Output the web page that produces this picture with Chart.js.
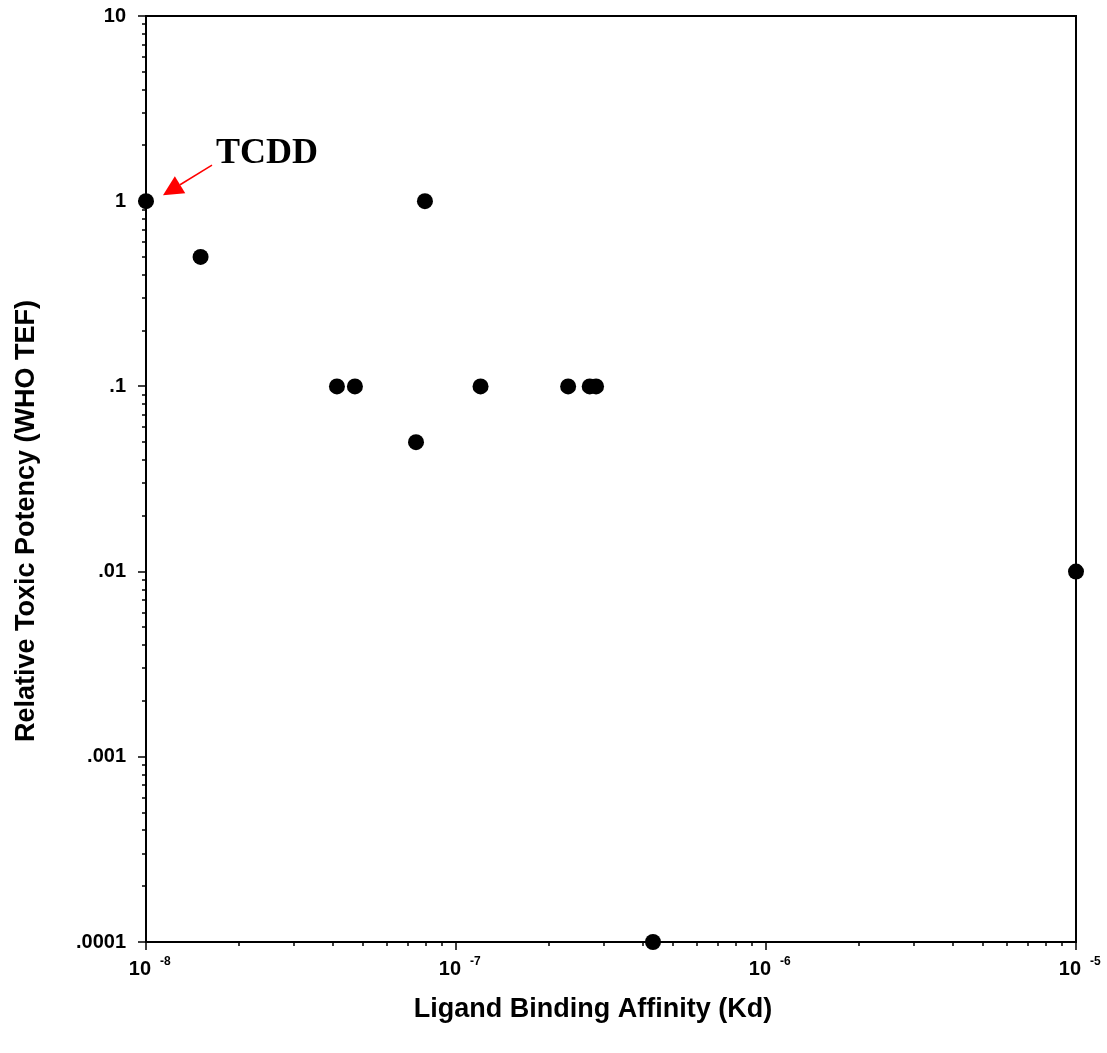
<!DOCTYPE html>
<html>
<head>
<meta charset="utf-8">
<script src="https://cdn.jsdelivr.net/npm/chart.js@4"></script>
<style>
  body { margin: 0; background: #fff; }
  #wrap { width: 1107px; height: 1053px; }
</style>
</head>
<body>
<div id="wrap"><canvas id="tef"></canvas></div>
<script>
// Kd (M) against WHO TEF for each congener
const kd = [1e-8, 1.5e-8, 4.13e-8, 4.72e-8, 7.43e-8, 7.94e-8, 1.2e-7, 2.3e-7, 2.7e-7, 2.83e-7, 4.32e-7, 1e-5]
const tef = [1, 0.5, 0.1, 0.1, 0.05, 1, 0.1, 0.1, 0.1, 0.1, 0.0001, 0.01]

const yTickLabels = ['.0001', '.001', '.01', '.1', '1', '10']
const xTickExponents = ['-8', '-7', '-6', '-5']
const xTitle = 'Ligand Binding Affinity (Kd)'
const yTitle = 'Relative Toxic Potency (WHO TEF)'

const sans = 'Liberation Sans, Arial, Helvetica, sans-serif'

function decade(v) {
  const e = Math.log10(v)
  return Math.abs(e - Math.round(e)) < 1e-6 ? Math.round(e) : null
}
function mantissa(v) {
  return v / Math.pow(10, Math.floor(Math.log10(v) + 1e-9))
}

// frame, tick marks, x labels with exponents, axis titles and the TCDD callout
const decor = {
  id: 'decor',
  beforeDatasetsDraw(chart) {
    const {ctx, chartArea: a, scales: {x, y}} = chart
    ctx.save()
    ctx.strokeStyle = '#000'
    ctx.lineWidth = 2
    ctx.strokeRect(a.left, a.top, a.right - a.left, a.bottom - a.top)

    ctx.lineWidth = 1.5
    ctx.beginPath()
    y.ticks.forEach(t => {
      if (Math.abs(mantissa(t.value) - 1.5) < 1e-6) return
      const py = Math.round(y.getPixelForValue(t.value))
      const len = decade(t.value) !== null ? 8 : 4
      ctx.moveTo(a.left - len, py)
      ctx.lineTo(a.left, py)
    })
    x.ticks.forEach(t => {
      if (Math.abs(mantissa(t.value) - 1.5) < 1e-6) return
      const px = Math.round(x.getPixelForValue(t.value))
      const len = decade(t.value) !== null ? 8 : 4
      ctx.moveTo(px, a.bottom)
      ctx.lineTo(px, a.bottom + len)
    })
    ctx.stroke()

    ctx.fillStyle = '#000'
    ctx.textBaseline = 'alphabetic'
    x.ticks.forEach(t => {
      const e = decade(t.value)
      if (e === null) return
      const px = x.getPixelForValue(t.value)
      ctx.font = 'bold 20px ' + sans
      ctx.textAlign = 'right'
      ctx.fillText('10', px + 5, a.bottom + 33)
      ctx.font = 'bold 12px ' + sans
      ctx.textAlign = 'left'
      ctx.fillText(xTickExponents[e + 8], px + 14, a.bottom + 23)
    })

    ctx.font = 'bold 27px ' + sans
    ctx.textAlign = 'center'
    ctx.textBaseline = 'middle'
    ctx.fillText(xTitle, 593, 1010)
    ctx.translate(27, 521)
    ctx.rotate(-Math.PI / 2)
    ctx.fillText(yTitle, 0, 0)
    ctx.restore()
  },
  afterDraw(chart) {
    const {ctx, scales: {x, y}} = chart
    const px = x.getPixelForValue(kd[0])
    const py = y.getPixelForValue(tef[0])
    ctx.save()
    ctx.fillStyle = '#000'
    ctx.font = 'bold 36px Liberation Serif, Times New Roman, serif'
    ctx.textAlign = 'left'
    ctx.textBaseline = 'alphabetic'
    ctx.fillText('TCDD', px + 70, py - 38)

    const sx = px + 66, sy = py - 36
    const tx = px + 17, ty = py - 6
    const ang = Math.atan2(ty - sy, tx - sx)
    const head = 20, half = 10
    const bx = tx - head * Math.cos(ang), by = ty - head * Math.sin(ang)
    ctx.strokeStyle = '#ff0000'
    ctx.fillStyle = '#ff0000'
    ctx.lineWidth = 1.5
    ctx.beginPath()
    ctx.moveTo(sx, sy)
    ctx.lineTo(bx, by)
    ctx.stroke()
    ctx.beginPath()
    ctx.moveTo(tx, ty)
    ctx.lineTo(bx + half * Math.sin(ang), by - half * Math.cos(ang))
    ctx.lineTo(bx - half * Math.sin(ang), by + half * Math.cos(ang))
    ctx.closePath()
    ctx.fill()
    ctx.restore()
  }
}

new Chart(document.getElementById('tef').getContext('2d'), {
  type: 'scatter',
  data: {
    datasets: [
      {
        label: 'WHO TEF',
        data: kd.map((v, i) => ({x: v, y: tef[i]})),
        backgroundColor: '#000',
        borderColor: '#000',
        pointRadius: 8,
        pointHoverRadius: 8,
        borderWidth: 0,
        clip: false
      }
    ]
  },
  options: {
    responsive: true,
    maintainAspectRatio: false,
    devicePixelRatio: 1,
    animation: false,
    events: [],
    layout: { padding: { top: 16, right: 31, left: 0, bottom: 0 } },
    plugins: { legend: { display: false }, tooltip: { enabled: false } },
    scales: {
      x: {
        type: 'logarithmic',
        min: 1e-8,
        max: 1e-5,
        grid: { display: false, drawTicks: false },
        border: { display: false },
        ticks: { display: false },
        afterFit: s => {
          s.height = 111
          s.paddingLeft = 0
          s.paddingRight = 0
        }
      },
      y: {
        type: 'logarithmic',
        min: 1e-4,
        max: 10,
        grid: { display: false, drawTicks: false },
        border: { display: false },
        afterFit: s => {
          s.width = 146
          s.paddingTop = 0
          s.paddingBottom = 0
        },
        ticks: {
          autoSkip: false,
          padding: 20,
          color: '#000',
          font: { family: sans, size: 20, weight: 'bold' },
          callback: v => {
            const e = decade(v)
            return e === null ? '' : yTickLabels[e + 4]
          }
        }
      }
    }
  },
  plugins: [decor]
})
</script>
</body>
</html>
